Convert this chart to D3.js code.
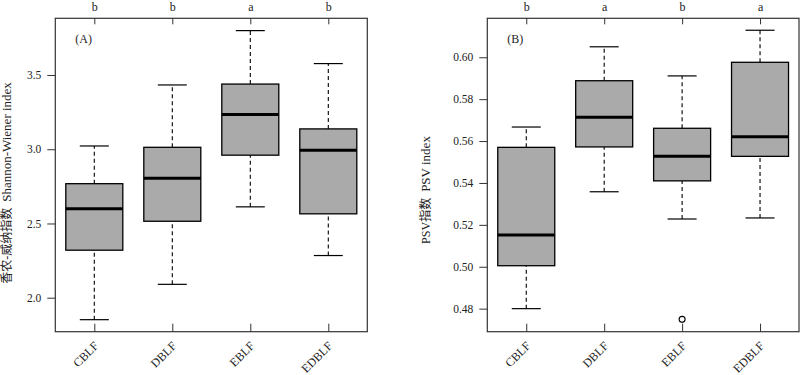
<!DOCTYPE html>
<html><head><meta charset="utf-8">
<script src="https://cdn.jsdelivr.net/npm/d3@7"></script>
<style>body{margin:0;background:#fff}svg{display:block}</style>
</head><body>
<svg id="c" width="800" height="375"></svg>
<script>
const categories = ["CBLF","DBLF","EBLF","EDBLF"];
// [lowerWhisker, Q1, median, Q3, upperWhisker]
const shannonStats = [
  [1.852, 2.320, 2.600, 2.768, 3.022],
  [2.090, 2.515, 2.805, 3.013, 3.433],
  [2.612, 2.960, 3.234, 3.439, 3.799],
  [2.284, 2.565, 2.993, 3.137, 3.577]
];
const shannonOutliers = [[],[],[],[]];
const shannonLetters = ["b","b","a","b"];
const shannonTicks = [2.0, 2.5, 3.0, 3.5];

const psvStats = [
  [0.4800, 0.5005, 0.5152, 0.5570, 0.5667],
  [0.5358, 0.5572, 0.5714, 0.5888, 0.6050],
  [0.5228, 0.5410, 0.5527, 0.5661, 0.5911],
  [0.5233, 0.5527, 0.5620, 0.5976, 0.6129]
];
const psvOutliers = [[],[],[0.4749],[]];
const psvLetters = ["b","a","b","a"];
const psvTicks = [0.48, 0.50, 0.52, 0.54, 0.56, 0.58, 0.60];

const svg = d3.select("#c");
const serif = "Liberation Serif, Times New Roman, serif";
const cjk = "Liberation Serif, Noto Sans CJK SC, serif";

function panel(opts){
  const {left,right,top,bottom,stats,outliers,letters,ticks,fmt,domain,label,titleCn,titleEn,titleX} = opts;
  const g = svg.append("g");
  // categories at positions 1..4, x range 0.5..4.5
  const xs = d3.scaleLinear().domain([0.5, 4.5]).range([left, right]);
  const y = d3.scaleLinear().domain(domain).range([bottom, top]);
  const bw = 57, cw = 29;

  stats.forEach((s,i)=>{
    const cx = xs(i+1);
    g.append("line").attr("x1",cx).attr("x2",cx).attr("y1",y(s[0])).attr("y2",y(s[1]))
      .attr("stroke","#000").attr("stroke-width",1.1).attr("stroke-dasharray","4,3");
    g.append("line").attr("x1",cx).attr("x2",cx).attr("y1",y(s[3])).attr("y2",y(s[4]))
      .attr("stroke","#000").attr("stroke-width",1.1).attr("stroke-dasharray","4,3");
    [s[0],s[4]].forEach(v=>{
      g.append("line").attr("x1",cx-cw/2).attr("x2",cx+cw/2).attr("y1",y(v)).attr("y2",y(v))
        .attr("stroke","#000").attr("stroke-width",1.2);
    });
    g.append("rect").attr("x",cx-bw/2).attr("width",bw).attr("y",y(s[3])).attr("height",y(s[1])-y(s[3]))
      .attr("fill","#aaaaaa").attr("stroke","#000").attr("stroke-width",1.3);
    g.append("line").attr("x1",cx-bw/2).attr("x2",cx+bw/2).attr("y1",y(s[2])).attr("y2",y(s[2]))
      .attr("stroke","#000").attr("stroke-width",3);
    outliers[i].forEach(v=>{
      g.append("circle").attr("cx",cx).attr("cy",y(v)).attr("r",3)
        .attr("fill","#fff").attr("stroke","#000").attr("stroke-width",1.1);
    });
  });

  g.append("rect").attr("x",left).attr("y",top).attr("width",right-left).attr("height",bottom-top)
    .attr("fill","none").attr("stroke","#333").attr("stroke-width",1.2);

  const ya = d3.axisLeft(y).tickValues(ticks).tickFormat(fmt).tickSize(8).tickPadding(6);
  const yg = g.append("g").attr("transform",`translate(${left},0)`).call(ya);
  yg.attr("font-family",serif).attr("font-size",11.5);
  yg.select(".domain").remove();
  yg.selectAll("line").attr("stroke","#333");
  yg.selectAll("text").attr("fill","#222");

  const xb = d3.axisBottom(xs).tickValues([1,2,3,4]).tickFormat("").tickSize(-8);
  const xbg = g.append("g").attr("transform",`translate(0,${bottom})`).call(xb);
  xbg.select(".domain").remove();
  xbg.selectAll("line").attr("stroke","#333");
  categories.forEach((c,i)=>{
    g.append("text").attr("transform",`translate(${xs(i+1)+3},${bottom+13}) rotate(-45)`)
      .attr("text-anchor","end").attr("dominant-baseline","middle")
      .attr("font-family",serif).attr("font-size",12).attr("fill","#222").text(c);
  });

  const xt = d3.axisTop(xs).tickValues([1,2,3,4]).tickFormat((d)=>letters[d-1]).tickSize(-6).tickPadding(7.3);
  const xtg = g.append("g").attr("transform",`translate(0,${top})`).call(xt);
  xtg.attr("font-family",serif).attr("font-size",12);
  xtg.select(".domain").remove();
  xtg.selectAll("line").attr("stroke","#333");
  xtg.selectAll("text").attr("fill","#222");

  g.append("text").attr("x",left+20).attr("y",top+25).attr("font-family",serif).attr("font-size",12)
    .attr("fill","#222").text(label);

  const t = g.append("text").attr("transform",`translate(${titleX},${(top+bottom)/2+opts.titleShift}) rotate(-90)`)
    .attr("text-anchor","middle").attr("dominant-baseline","middle").attr("fill","#222");
  t.append("tspan").attr("font-family",cjk).attr("font-size",12).text(titleCn);
  t.append("tspan").attr("font-family",serif).attr("font-size",13).attr("dx",6).text(titleEn);
}

panel({left:55.3,right:367.3,top:18.3,bottom:331.7,stats:shannonStats,outliers:shannonOutliers,
  letters:shannonLetters,ticks:shannonTicks,fmt:d3.format(".1f"),domain:[1.771,3.882],
  label:"(A)",titleCn:"香农-威纳指数",titleEn:"Shannon-Wiener index",titleX:8,titleShift:8});
panel({left:487.3,right:799,top:18.3,bottom:331.7,stats:psvStats,outliers:psvOutliers,
  letters:psvLetters,ticks:psvTicks,fmt:d3.format(".2f"),domain:[0.469,0.6186],
  label:"(B)",titleCn:"PSV指数",titleEn:"PSV index",titleX:427,titleShift:15});
</script>
</body></html>
